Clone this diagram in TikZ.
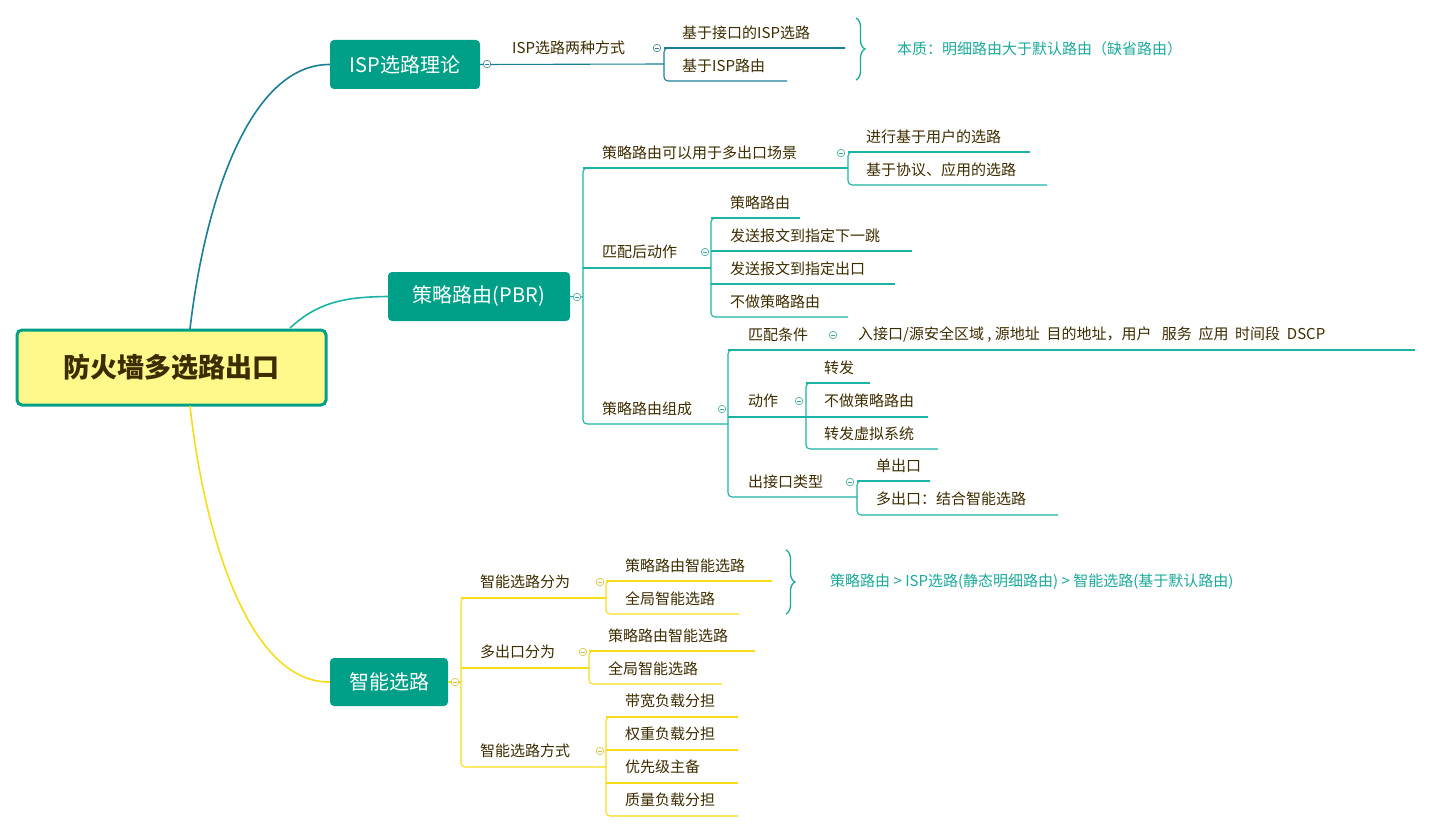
\documentclass[tikz,border=0pt]{standalone}
\usepackage{fontspec}
\setmainfont{Noto Sans CJK SC}
\usetikzlibrary{decorations.pathreplacing}
\definecolor{ink}{HTML}{3C2C00}
\definecolor{isp}{HTML}{1A7F96}
\definecolor{pbr}{HTML}{1BB3A3}
\definecolor{yel}{HTML}{F7DC1A}
\definecolor{boxc}{HTML}{00A088}
\definecolor{note}{HTML}{1BAA9A}
\newcommand\brk[7]{\draw[#1,rounded corners=4] (#4,#3) -- (#2,#3) -- (#2,#5) -- (#6,#5);\draw[#1] (#2,#3) -- (#4,#3);}
\newcommand\cir[3]{\draw[#1!70!gray,line width=0.6pt,fill=white] (#2,#3) circle (3.8);\draw[#1!70!gray,line width=0.6pt] ({#2-2},#3) -- ({#2+2},#3);}
\begin{document}
\begin{tikzpicture}[x=1pt,y=-1pt,
  txt/.style={anchor=west,text=ink,font=\fontsize{15}{15}\selectfont,inner sep=0},
  mainbox/.style={fill=boxc,rounded corners=4,text=white,font=\fontsize{20}{20}\selectfont,inner sep=0},
  ln/.style={line width=1.1pt},
  nt/.style={anchor=west,text=note,font=\fontsize{15}{15}\selectfont\itshape,inner sep=0}]
\useasboundingbox (0,0) rectangle (1432,832);
% center
\node[draw=boxc,line width=3pt,fill=yellow!45!white,rounded corners=5,minimum width=309,minimum height=75,text=ink,font=\fontsize{27}{27}\selectfont\bfseries] (c) at (171.5,367.5) {防火墙多选路出口};
\node[mainbox,minimum width=150,minimum height=49] (isp) at (405,64.5) {ISP选路理论};
\node[mainbox,minimum width=182,minimum height=49] (pbr) at (479,296.5) {策略路由(PBR)};
\node[mainbox,minimum width=118,minimum height=48] (sm) at (389,682) {智能选路};
\draw[isp,line width=1.6pt] (190,329) .. controls (205,200) and (250,64) .. (isp.west);
\draw[pbr,line width=1.6pt] (290,328) .. controls (320,300) and (350,297) .. (pbr.west);
\draw[yel,line width=1.6pt] (190,406) .. controls (205,540) and (250,683) .. (sm.west);
% ISP branch
\draw[isp,ln] (isp.east) -- (664,64);
\node[txt] (i1) at (512,48) {ISP选路两种方式};
\brk{isp,ln}{664}{48}{845}{81}{787}{}
\node[txt] (i11) at (682,33) {基于接口的ISP选路};
\node[txt] (i12) at (682,66) {基于ISP路由};
\cir{isp}{487}{64}\cir{isp}{657}{48}
\draw[note,line width=1.3pt,decorate,decoration={brace,amplitude=9pt}] (856,18) -- (856,80);
\node[nt] (n1) at (897,49) {本质：明细路由大于默认路由（缺省路由）};
% PBR branch
\draw[pbr,ln] (pbr.east) -- (583,297);
\brk{pbr,ln}{583}{168}{848}{424}{728}{}
\draw[pbr,ln] (583,268) -- (711,268);
\node[txt] (p1) at (602,153) {策略路由可以用于多出口场景};
\brk{pbr,ln}{848}{152}{1030}{185}{1047}{}
\node[txt] (p11) at (866,137) {进行基于用户的选路};
\node[txt] (p12) at (866,170) {基于协议、应用的选路};
\node[txt] (p2) at (602,252) {匹配后动作};
\brk{pbr,ln}{711}{218}{800}{317}{848}{}
\draw[pbr,ln] (711,251) -- (912,251);
\draw[pbr,ln] (711,284) -- (895,284);
\node[txt] (p21) at (730,203) {策略路由};
\node[txt] (p22) at (730,236) {发送报文到指定下一跳};
\node[txt] (p23) at (730,269) {发送报文到指定出口};
\node[txt] (p24) at (730,302) {不做策略路由};
\node[txt] (p3) at (602,409) {策略路由组成};
\brk{pbr,ln}{728}{350}{1415}{497}{857}{}
\draw[pbr,ln] (728,417) -- (806,417);
\node[txt] (p31) at (748,335) {匹配条件};
\node[txt] (p311) at (858,335) {入接口/源安全区域 , 源地址\ \ 目的地址，用户\ \ \ 服务\ \ 应用\ \ 时间段\ \ DSCP};
\node[txt] (p32) at (748,401) {动作};
\brk{pbr,ln}{806}{383}{870}{449}{938}{}
\draw[pbr,ln] (806,417) -- (928,417);
\node[txt] (p321) at (824,368) {转发};
\node[txt] (p322) at (824,401) {不做策略路由};
\node[txt] (p323) at (824,434) {转发虚拟系统};
\node[txt] (p33) at (748,482) {出接口类型};
\brk{pbr,ln}{857}{481}{930}{515}{1058}{}
\node[txt] (p331) at (876,466) {单出口};
\node[txt] (p332) at (876,499) {多出口：结合智能选路};
\cir{pbr}{577}{297}\cir{pbr}{841}{153}\cir{pbr}{705}{252}\cir{pbr}{722}{409}\cir{pbr}{833}{335}\cir{pbr}{799}{401}\cir{pbr}{850}{482}
% smart branch
\draw[yel,ln] (sm.east) -- (461,682);
\brk{yel,ln}{461}{598}{606}{767}{606}{}
\draw[yel,ln] (461,668) -- (589,668);
\node[txt] (s1) at (480,582) {智能选路分为};
\brk{yel,ln}{606}{581}{772}{614}{739}{}
\node[txt] (s11) at (625,566) {策略路由智能选路};
\node[txt] (s12) at (625,599) {全局智能选路};
\draw[note,line width=1.3pt,decorate,decoration={brace,amplitude=9pt}] (786,550) -- (786,614);
\node[nt] (n2) at (830,582) {策略路由 > ISP选路(静态明细路由) > 智能选路(基于默认路由)};
\node[txt] (s2) at (480,652) {多出口分为};
\brk{yel,ln}{589}{651}{755}{684}{722}{}
\node[txt] (s21) at (608,636) {策略路由智能选路};
\node[txt] (s22) at (608,669) {全局智能选路};
\node[txt] (s3) at (480,751) {智能选路方式};
\brk{yel,ln}{606}{717}{738}{816}{738}{}
\draw[yel,ln] (606,750) -- (738,750);
\draw[yel,ln] (606,783) -- (738,783);
\node[txt] (s31) at (625,701) {带宽负载分担};
\node[txt] (s32) at (625,734) {权重负载分担};
\node[txt] (s33) at (625,767) {优先级主备};
\node[txt] (s34) at (625,800) {质量负载分担};
\cir{yel}{455}{682}\cir{yel}{600}{582}\cir{yel}{583}{652}\cir{yel}{600}{751}
\end{tikzpicture}
\end{document}
